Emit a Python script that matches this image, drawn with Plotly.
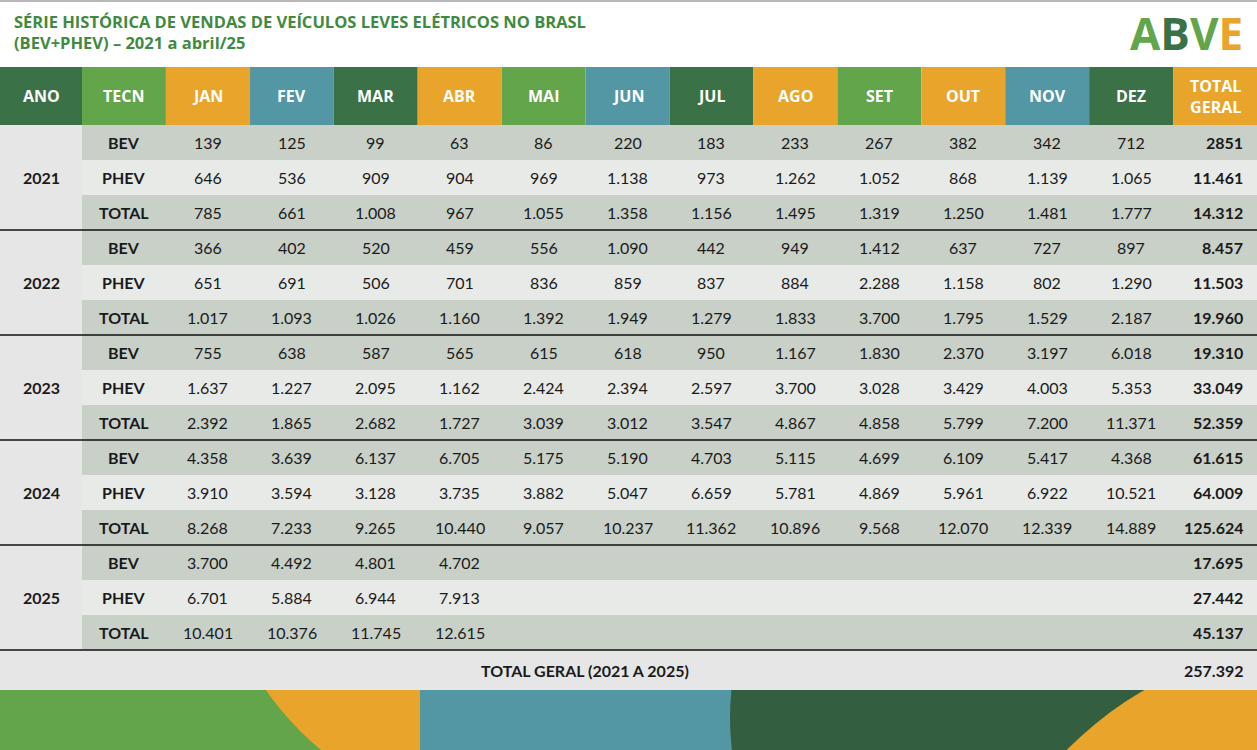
import plotly.graph_objects as go

years = ["2021", "2022", "2023", "2024", "2025"]
techs = ["BEV", "PHEV", "TOTAL"]
months = ["JAN", "FEV", "MAR", "ABR", "MAI", "JUN", "JUL", "AGO", "SET", "OUT", "NOV", "DEZ"]

bev = {
    "2021": [139, 125, 99, 63, 86, 220, 183, 233, 267, 382, 342, 712],
    "2022": [366, 402, 520, 459, 556, 1090, 442, 949, 1412, 637, 727, 897],
    "2023": [755, 638, 587, 565, 615, 618, 950, 1167, 1830, 2370, 3197, 6018],
    "2024": [4358, 3639, 6137, 6705, 5175, 5190, 4703, 5115, 4699, 6109, 5417, 4368],
    "2025": [3700, 4492, 4801, 4702],
}
phev = {
    "2021": [646, 536, 909, 904, 969, 1138, 973, 1262, 1052, 868, 1139, 1065],
    "2022": [651, 691, 506, 701, 836, 859, 837, 884, 2288, 1158, 802, 1290],
    "2023": [1637, 1227, 2095, 1162, 2424, 2394, 2597, 3700, 3028, 3429, 4003, 5353],
    "2024": [3910, 3594, 3128, 3735, 3882, 5047, 6659, 5781, 4869, 5961, 6922, 10521],
    "2025": [6701, 5884, 6944, 7913],
}
total = {
    "2021": [785, 661, 1008, 967, 1055, 1358, 1156, 1495, 1319, 1250, 1481, 1777],
    "2022": [1017, 1093, 1026, 1160, 1392, 1949, 1279, 1833, 3700, 1795, 1529, 2187],
    "2023": [2392, 1865, 2682, 1727, 3039, 3012, 3547, 4867, 4858, 5799, 7200, 11371],
    "2024": [8268, 7233, 9265, 10440, 9057, 10237, 11362, 10896, 9568, 12070, 12339, 14889],
    "2025": [10401, 10376, 11745, 12615],
}
total_geral = {
    "2021": [2851, 11461, 14312],
    "2022": [8457, 11503, 19960],
    "2023": [19310, 33049, 52359],
    "2024": [61615, 64009, 125624],
    "2025": [17695, 27442, 45137],
}
grand_total = 257392

DKGREEN = "#3a7147"
GREEN = "#63a54b"
ORANGE = "#e8a42b"
TEAL = "#5497a4"
header_cols = ["ANO", "TECN"] + months + ["TOTAL<br>GERAL"]
header_colors = [DKGREEN, GREEN, ORANGE, TEAL, DKGREEN, ORANGE, GREEN, TEAL, DKGREEN,
                 ORANGE, GREEN, ORANGE, TEAL, DKGREEN, ORANGE]

def fmt(v):
    # the source sheet prints 2851 without a separator
    if v == 2851:
        return "2851"
    return f"{v:,}".replace(",", ".")

W, H = 1257, 750
col_w = (W - 82) / 14
lefts = [0] + [82 + i * col_w for i in range(14)]
rights = lefts[1:] + [W]
centers = [(l + r) / 2 for l, r in zip(lefts, rights)]
HDR_TOP, HDR_BOT, ROW_H = 67, 125, 35

shapes = []
ann = []
def rect(x0, y0, x1, y1, color, **kw):
    shapes.append(dict(type="rect", x0=x0, x1=x1, y0=y0, y1=y1, fillcolor=color,
                       line=dict(width=0), layer="below", **kw))

# bottom decorative band
rect(0, 690, 430, 750, GREEN)
shapes.append(dict(type="circle", x0=520 - 311, x1=520 + 311, y0=511 - 311, y1=511 + 311,
                   fillcolor=ORANGE, line=dict(width=0), layer="below"))
rect(420, 690, 760, 750, TEAL)
shapes.append(dict(type="circle", x0=1000 - 270, x1=1000 + 270, y0=718 - 270, y1=718 + 270,
                   fillcolor="#345e40", line=dict(width=0), layer="below"))
rect(1000, 690, W, 750, "#345e40")
shapes.append(dict(type="circle", x0=1330 - 370, x1=1330 + 370, y0=1010 - 370, y1=1010 + 370,
                   fillcolor=ORANGE, line=dict(width=0), layer="below"))
rect(0, 0, W, 690, "white")
rect(0, 0, W, 2, "#b8b8b8")

# header
for i, (lab, c) in enumerate(zip(header_cols, header_colors)):
    rect(lefts[i], HDR_TOP, rights[i], HDR_BOT, c)
    ann.append(dict(x=centers[i], y=(HDR_TOP + HDR_BOT) / 2, text=f"<b>{lab}</b>",
                    font=dict(family="Open Sans", size=16, color="white")))

LIGHT, DARK, YEARBG = "#e8eae8", "#c8d0c8", "#e6e6e6"
body_font = dict(family="Lato", size=16, color="#1a1a1a")
for yi, yr in enumerate(years):
    top = HDR_BOT + yi * 3 * ROW_H
    rect(0, top, 82, top + 3 * ROW_H, YEARBG)
    ann.append(dict(x=centers[0], y=top + 1.5 * ROW_H, text=f"<b>{yr}</b>", font=body_font))
    for ti, (tech, series) in enumerate(zip(techs, [bev, phev, total])):
        y0 = top + ti * ROW_H
        rect(82, y0, W, y0 + ROW_H, LIGHT if ti == 1 else DARK)
        yc = y0 + ROW_H / 2
        ann.append(dict(x=centers[1], y=yc, text=f"<b>{tech}</b>", font=body_font))
        for mi, v in enumerate(series[yr]):
            ann.append(dict(x=centers[2 + mi], y=yc, text=fmt(v), font=body_font))
        ann.append(dict(x=rights[-1] - 12, y=yc, text=f"<b>{fmt(total_geral[yr][ti])}</b>",
                        xanchor="right", font=body_font))
    shapes.append(dict(type="line", x0=0, x1=W, y0=top + 3 * ROW_H, y1=top + 3 * ROW_H,
                       line=dict(color="#111", width=1.5)))

gt_top = HDR_BOT + 15 * ROW_H
rect(0, gt_top, W, 690, YEARBG)
ann.append(dict(x=585, y=(gt_top + 690) / 2, text="<b>TOTAL GERAL (2021 A 2025)</b>", font=body_font))
ann.append(dict(x=rights[-1] - 12, y=(gt_top + 690) / 2, text=f"<b>{fmt(grand_total)}</b>",
                xanchor="right", font=body_font))

# title
ann.append(dict(x=12, y=32, xanchor="left", align="left",
                text="<b>SÉRIE HISTÓRICA DE VENDAS DE VEÍCULOS LEVES ELÉTRICOS NO BRASL<br>(BEV+PHEV) – 2021 a abril/25</b>",
                font=dict(family="Open Sans", size=16.5, color="#3f8a3f")))
# logo
ann.append(dict(x=1245, y=33, xanchor="right",
                text=f"<b><span style='color:{GREEN}'>A</span><span style='color:{DKGREEN}'>B</span>"
                     f"<span style='color:{GREEN}'>V</span><span style='color:{ORANGE}'>E</span></b>",
                font=dict(family="Open Sans", size=44)))

for a in ann:
    a.update(xref="x", yref="y", showarrow=False)

fig = go.Figure()
fig.update_layout(width=W, height=H, margin=dict(l=0, r=0, t=0, b=0),
                  paper_bgcolor="white", plot_bgcolor="white",
                  xaxis=dict(range=[0, W], visible=False, fixedrange=True),
                  yaxis=dict(range=[H, 0], visible=False, fixedrange=True),
                  shapes=shapes, annotations=ann, showlegend=False)
fig.write_html("out.html", config=dict(displayModeBar=False),
               post_script="document.body.style.margin='0';document.body.style.overflow='hidden';")
